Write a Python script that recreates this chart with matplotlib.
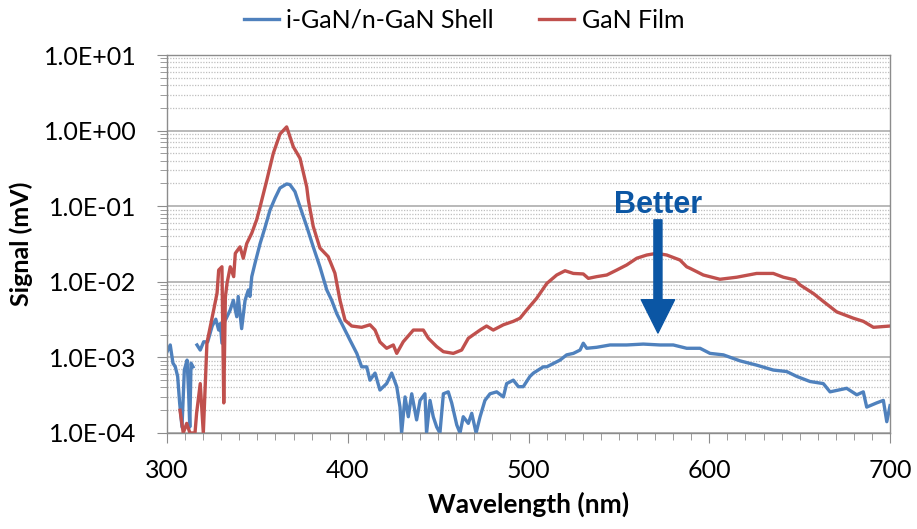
import numpy as np
import matplotlib
matplotlib.use("Agg")
import matplotlib.pyplot as plt
from matplotlib.ticker import LogLocator, MultipleLocator, FuncFormatter, NullFormatter

plt.rcParams['font.family'] = ['Lato', 'DejaVu Sans']

# i-GaN/n-GaN shell (nan = below the axis, line broken)
shell_wl = [300.0, 301.8, 303.3, 304.6, 305.9, 307.0, 308.3, 309.6, 311.1, 312.0,
            312.6, 313.3, 314.4, 315.5, 316.6, 318.4, 320.3, 322.5, 325.0, 327.0,
            328.6, 329.5, 330.4, 331.4, 333.2, 334.9, 336.7, 338.6, 339.4, 341.3,
            343.2, 345.0, 345.9, 346.9, 348.7, 351.5, 354.2, 357.0, 359.8, 362.5,
            366.2, 368.0, 370.8, 373.6, 377.3, 380.9, 384.6, 388.4, 391.1, 393.9,
            397.5, 401.2, 405.0, 407.7, 410.5, 412.3, 415.1, 417.8, 421.5, 424.3,
            427.1, 428.9, 429.8, 431.7, 433.5, 435.4, 438.1, 440.0, 442.7, 443.6,
            445.5, 447.3, 449.2, 451.0, 452.9, 455.6, 457.5, 460.3, 462.1, 463.9,
            466.7, 468.6, 471.0, 473.2, 475.9, 478.7, 482.4, 486.1, 487.9, 491.6,
            494.4, 497.1, 500.8, 502.7, 508.2, 510.1, 517.4, 521.1, 524.8, 528.5,
            530.3, 532.2, 537.7, 545.1, 554.3, 563.5, 572.8, 580.1, 587.5, 594.9,
            600.4, 607.8, 617.0, 626.2, 635.4, 642.8, 648.4, 655.7, 663.1, 666.8,
            676.0, 681.6, 685.2, 687.1, 692.6, 696.3, 698.2, 700.0]
shell_sig = [1.18e-3, 1.46e-3, 8.4e-4, 7.5e-4, 5.6e-4, 2.5e-4, 1.2e-4, 6.8e-4, 9.2e-4, 3.3e-4,
             1.2e-4, 8.4e-4, 7.5e-4, np.nan, 1.46e-3, 1.25e-3, 1.61e-3, 1.6e-3, 2.6e-3, 3.2e-3,
             2.3e-3, 2.8e-3, 1.54e-3, 2.8e-3, 3.45e-3, 4.2e-3, 5.7e-3, 3.45e-3, 6.4e-3, 2.4e-3,
             5.7e-3, 7.8e-3, 6.4e-3, 1.17e-2, 1.76e-2, 3.2e-2, 5.2e-2, 8.9e-2, 0.128, 0.174,
             0.197, 0.193, 0.156, 0.098, 0.054, 0.029, 1.58e-2, 7.8e-3, 5.7e-3, 3.8e-3,
             2.55e-3, 1.7e-3, 1.13e-3, 7.5e-4, 7.5e-4, 5.0e-4, 6.2e-4, 3.7e-4, 4.5e-4, 6.2e-4,
             4.1e-4, 2.2e-4, 1.0e-4, 3.0e-4, 1.64e-4, 3.3e-4, 1.49e-4, 2.7e-4, 3.3e-4, 1.0e-4,
             2.7e-4, 1.64e-4, 1.2e-4, 1.0e-4, 3.3e-4, 3.5e-4, 2.5e-4, 1.28e-4, 1.0e-4, 1.64e-4,
             1.34e-4, 1.82e-4, 1.0e-4, 1.64e-4, 2.7e-4, 3.3e-4, 3.5e-4, 3.0e-4, 4.5e-4, 5.0e-4,
             4.1e-4, 4.1e-4, 5.6e-4, 6.2e-4, 7.5e-4, 7.5e-4, 9.2e-4, 1.08e-3, 1.13e-3, 1.25e-3,
             1.54e-3, 1.32e-3, 1.36e-3, 1.46e-3, 1.46e-3, 1.50e-3, 1.46e-3, 1.46e-3, 1.32e-3, 1.32e-3,
             1.13e-3, 1.08e-3, 9.0e-4, 7.9e-4, 6.8e-4, 6.5e-4, 5.6e-4, 4.8e-4, 4.5e-4, 3.5e-4,
             3.9e-4, 3.2e-4, 3.5e-4, 2.2e-4, 2.5e-4, 2.7e-4, 1.41e-4, 2.3e-4]

# GaN film
film_wl = [307.2, 309.0, 310.9, 312.7, 315.5, 316.4, 318.4, 320.1, 322.1, 325.8,
           327.7, 328.6, 330.4, 331.4, 332.3, 333.2, 335.0, 336.9, 337.8, 340.4,
           342.2, 344.1, 346.9, 349.6, 351.5, 355.2, 358.8, 362.5, 366.2, 369.9,
           373.6, 377.3, 378.2, 380.9, 384.6, 389.2, 392.9, 395.7, 398.5, 402.2,
           407.7, 412.3, 415.1, 417.8, 421.5, 423.4, 425.2, 427.1, 430.7, 436.3,
           441.8, 444.6, 449.2, 452.9, 458.4, 463.0, 466.7, 473.2, 476.8, 480.5,
           486.1, 491.6, 495.3, 499.0, 504.5, 510.1, 515.6, 520.2, 524.8, 530.3,
           533.1, 537.7, 543.3, 548.8, 554.3, 559.9, 565.4, 570.9, 576.5, 583.8,
           587.5, 589.3, 593.1, 596.7, 605.9, 615.2, 626.2, 635.4, 641.0, 647.4,
           650.2, 657.6, 663.1, 670.5, 679.7, 685.2, 690.8, 700.0]
film_sig = [2.0e-4, 1.0e-4, 1.34e-4, 1.0e-4, 1.0e-4, 1.84e-4, 4.5e-4, 1.0e-4, 1.55e-3, 4.2e-3,
            7.1e-3, 1.43e-2, 1.58e-2, 2.5e-4, 6.3e-3, 9.5e-3, 1.58e-2, 1.17e-2, 2.38e-2, 2.9e-2,
            2.05e-2, 3.2e-2, 4.4e-2, 6.6e-2, 9.8e-2, 0.22, 0.50, 0.90, 1.12, 0.61,
            0.43, 0.18, 0.121, 0.054, 0.028, 2.15e-2, 1.30e-2, 5.7e-3, 3.1e-3, 2.6e-3,
            2.5e-3, 2.7e-3, 2.3e-3, 1.6e-3, 1.32e-3, 1.39e-3, 1.46e-3, 1.13e-3, 1.61e-3, 2.3e-3,
            2.3e-3, 1.79e-3, 1.39e-3, 1.19e-3, 1.13e-3, 1.25e-3, 1.79e-3, 2.3e-3, 2.6e-3, 2.3e-3,
            2.7e-3, 3.0e-3, 3.3e-3, 4.24e-3, 6.05e-3, 9.5e-3, 1.23e-2, 1.40e-2, 1.29e-2, 1.27e-2,
            1.11e-2, 1.17e-2, 1.23e-2, 1.43e-2, 1.67e-2, 2.05e-2, 2.26e-2, 2.38e-2, 2.26e-2, 1.94e-2,
            1.58e-2, 1.51e-2, 1.36e-2, 1.23e-2, 1.08e-2, 1.15e-2, 1.29e-2, 1.29e-2, 1.15e-2, 1.06e-2,
            9.1e-3, 7.0e-3, 5.5e-3, 4.0e-3, 3.3e-3, 3.0e-3, 2.5e-3, 2.6e-3]

blue = '#4F81BD'
red = '#C0504D'

fig = plt.figure(figsize=(9.17, 5.29), dpi=100)
ax = fig.add_axes([0.1821, 0.1815, 0.7885, 0.7145])

ax.plot(shell_wl, shell_sig, color=blue, lw=2.4, label='i-GaN/n-GaN Shell')
ax.plot(film_wl, film_sig, color=red, lw=2.4, label='GaN Film')

ax.set_yscale('log')
ax.set_xlim(300, 700)
ax.set_ylim(1e-4, 10)

ax.xaxis.set_major_locator(MultipleLocator(100))
ax.xaxis.set_minor_locator(MultipleLocator(10))
ax.yaxis.set_major_locator(LogLocator(base=10, numticks=10))
ax.yaxis.set_minor_locator(LogLocator(base=10, subs=np.arange(2, 10), numticks=20))
ax.yaxis.set_minor_formatter(NullFormatter())
ax.yaxis.set_major_formatter(FuncFormatter(lambda v, p: '1.0E%+03d' % round(np.log10(v))))

ax.grid(True, which='major', axis='y', color='#A6A6A6', lw=1.1)
ax.grid(True, which='minor', axis='y', color='#BFBFBF', lw=0.9, linestyle=(0, (1, 1.2)))
ax.set_axisbelow(True)

for s in ax.spines.values():
    s.set_color('#8C8C8C')
    s.set_linewidth(1)
ax.tick_params(axis='both', which='both', direction='out', color='#8C8C8C', labelsize=18)
ax.tick_params(axis='both', which='major', length=7)
ax.tick_params(axis='both', which='minor', length=5)
ax.tick_params(axis='x', pad=12)
ax.tick_params(axis='y', pad=15)

ax.set_xlabel('Wavelength (nm)', fontsize=19, fontweight='bold', labelpad=7)
ax.set_ylabel('Signal (mV)', fontsize=18, fontweight='bold', labelpad=8)

arrow_col = '#0B56A4'
ax.annotate('', xy=(571.6, 0.0021), xytext=(571.6, 0.066),
            arrowprops=dict(arrowstyle='simple,head_width=2.4,head_length=2.4,tail_width=0.58',
                            color=arrow_col, mutation_scale=10, shrinkA=0, shrinkB=0))
ax.text(571.6, 0.104, 'Better', color=arrow_col, fontsize=22, fontweight='bold',
        family=['Liberation Sans', 'DejaVu Sans'], ha='center', va='center')

fig.legend(loc='center', bbox_to_anchor=(0.506, 0.962), ncol=2, frameon=False,
           fontsize=18, handlelength=1.4, columnspacing=1.8, handletextpad=0.3)

fig.savefig('out.png', dpi=100)
